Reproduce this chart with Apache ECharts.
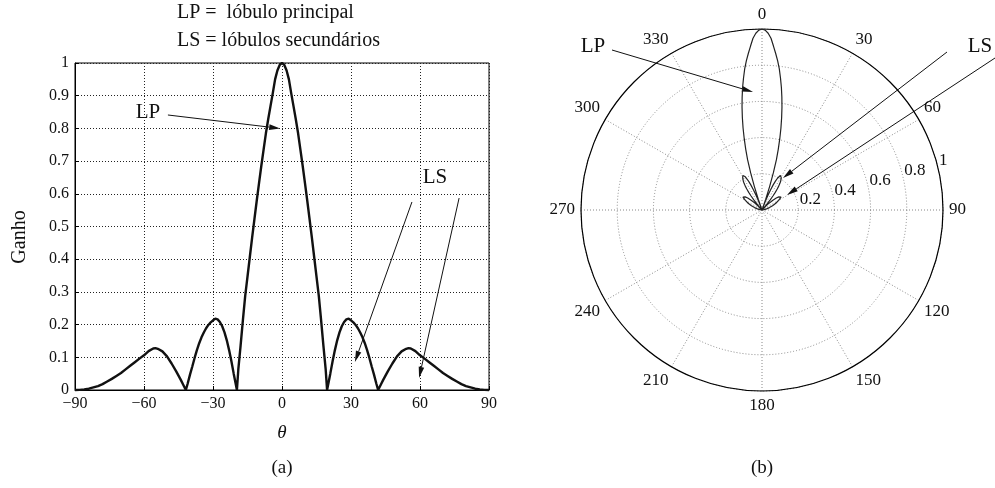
<!DOCTYPE html>
<html>
<head>
<meta charset="utf-8">
<script src="https://cdn.jsdelivr.net/npm/echarts@6/dist/echarts.min.js"></script>
<style>
html,body{margin:0;padding:0;background:#fff;}
#c{width:995px;height:488px;}
</style>
</head>
<body>
<div id="c"></div>
<script>
// ---- data ----
const theta = [-90,-88,-86,-84,-82,-80,-78,-76,-74,-72,-70,-68,-66,-64,-62,-60,-58,-56,-55,-54,-52,-50,-48,-46,-45,-44,-43,-41.8,
  -41,-40,-39,-38,-37,-36,-35,-34,-33,-32,-31,-30,-29,-28,-27,-26,-25,-24,-23,-22,-21,-19.6,
  -19,-18,-17,-16,-15,-14,-13,-12,-11,-10,-9,-8,-7,-6,-5,-4,-3,-2,-1,0,
  1,2,3,4,5,6,7,8,9,10,11,12,13,14,15,16,17,18,19,19.6,
  21,22,23,24,25,26,27,28,29,30,31,32,33,34,35,36,37,38,39,40,41,41.8,
  43,44,45,46,48,50,52,54,55,56,58,60,62,64,66,68,70,72,74,76,78,80,82,84,86,88,90];
const gain = [0,0.0005,0.002,0.004,0.008,0.012,0.018,0.026,0.034,0.043,0.052,0.063,0.074,0.085,0.096,0.106,0.119,0.127,0.128,0.126,0.118,0.103,0.081,0.057,0.044,0.031,0.017,0,
  0.02,0.047,0.072,0.098,0.122,0.143,0.161,0.176,0.189,0.199,0.207,0.213,0.218,0.216,0.208,0.195,0.176,0.152,0.122,0.088,0.05,0,
  0.062,0.136,0.214,0.288,0.347,0.406,0.465,0.522,0.578,0.632,0.685,0.735,0.785,0.828,0.868,0.908,0.95,0.977,0.994,1,
  0.994,0.977,0.95,0.908,0.868,0.828,0.785,0.735,0.685,0.632,0.578,0.522,0.465,0.406,0.347,0.288,0.214,0.136,0.062,0,
  0.05,0.088,0.122,0.152,0.176,0.195,0.208,0.216,0.218,0.213,0.207,0.199,0.189,0.176,0.161,0.143,0.122,0.098,0.072,0.047,0.02,0,
  0.017,0.031,0.044,0.057,0.081,0.103,0.118,0.126,0.128,0.127,0.119,0.106,0.096,0.085,0.074,0.063,0.052,0.043,0.034,0.026,0.018,0.012,0.008,0.004,0.002,0.0005,0];
const radTicks = [0.2, 0.4, 0.6, 0.8, 1];
const radTickLabels = ['0.2', '0.4', '0.6', '0.8', '1'];
const titleLines = ['LP =  lóbulo principal', 'LS = lóbulos secundários'];
// annotation arrows on panel (a), in data coordinates [theta, gain]: start -> tip
const arrowsA = [
  [[-49.6, 0.841], [-0.8, 0.8]],
  [[56.5, 0.575], [31.7, 0.086]],
  [[77, 0.587], [59.6, 0.037]]
];

// ---- build ----
const FONT = 'Liberation Serif';
const cartData = theta.map((t, i) => [t, gain[i]]);
const polarData = theta.map((t, i) => [gain[i], t]);

const chart = echarts.init(document.getElementById('c'), null, {renderer: 'canvas'});

function arrowGraphic(x1, y1, x2, y2) {
  const dx = x2 - x1, dy = y2 - y1, L = Math.hypot(dx, dy);
  const ux = dx / L, uy = dy / L, len = 11, hw = 2.8;
  const bx = x2 - ux * len, by = y2 - uy * len;
  return [
    {type: 'line', shape: {x1, y1, x2: bx, y2: by}, style: {stroke: '#111', lineWidth: 1}},
    {type: 'polygon', shape: {points: [[x2, y2], [bx - uy * hw, by + ux * hw], [bx + uy * hw, by - ux * hw]]}, style: {fill: '#111'}}
  ];
}

const txt = (x, y, s, size, opts) => Object.assign({
  type: 'text', x, y,
  style: Object.assign({text: s, font: (size || 17) + 'px "' + FONT + '"', fill: '#111', align: 'center', verticalAlign: 'middle'}, (opts && opts.style) || {})
}, opts && opts.rotation ? {rotation: opts.rotation} : {});

const staticGraphics = [
  txt(177, 13, titleLines[0], 20, {style: {align: 'left'}}),
  txt(177, 41, titleLines[1], 20, {style: {align: 'left'}}),
  txt(20, 237, 'Ganho', 20, {rotation: Math.PI / 2}),
  txt(282, 433, 'θ', 19, {style: {font: 'italic 19px "' + FONT + '"'}}),
  txt(282, 468, '(a)', 19),
  txt(762, 468, '(b)', 19),
  txt(148, 112, 'LP', 21),
  txt(435, 177, 'LS', 21),
  txt(593, 46, 'LP', 21),
  txt(980, 46, 'LS', 21)
].concat(arrowGraphic(612, 50, 753, 92))
 .concat(arrowGraphic(947, 52, 783, 178))
 .concat(arrowGraphic(995, 58, 787, 195));

const option = {
  animation: false,
  textStyle: {fontFamily: FONT},
  grid: {left: 75, right: 506, top: 63, bottom: 98, show: true, borderColor: '#000', borderWidth: 1},
  xAxis: {
    type: 'value', min: -90, max: 90, interval: 30,
    axisLine: {onZero: false, lineStyle: {color: '#000', width: 1}},
    axisTick: {inside: true, length: 4, lineStyle: {color: '#000'}},
    axisLabel: {color: '#111', fontSize: 16, fontFamily: FONT, margin: 6,
      formatter: v => v < 0 ? '\u2212' + Math.abs(v) : String(v)},
    splitLine: {show: true, lineStyle: {color: '#222', type: [1, 2], width: 1}}
  },
  yAxis: {
    type: 'value', min: 0, max: 1, interval: 0.1,
    axisLine: {onZero: false, lineStyle: {color: '#000', width: 1}},
    axisTick: {inside: true, length: 4, lineStyle: {color: '#000'}},
    axisLabel: {color: '#111', fontSize: 16, fontFamily: FONT, margin: 6,
      formatter: v => String(+v.toFixed(1))},
    splitLine: {show: true, lineStyle: {color: '#222', type: [1, 2], width: 1}}
  },
  polar: {center: [762, 210], radius: 181},
  angleAxis: {
    type: 'value', min: -180, max: 180, interval: 30, startAngle: -90, clockwise: true,
    axisLine: {lineStyle: {color: '#000', width: 1.2}},
    axisTick: {show: false},
    axisLabel: {color: '#111', fontSize: 17, fontFamily: FONT, margin: 6,
      formatter: v => String((v + 360) % 360)},
    splitLine: {show: true, lineStyle: {color: '#888', type: [1, 2], width: 1}}
  },
  radiusAxis: {
    type: 'value', min: 0, max: 1, interval: 0.2,
    axisLine: {show: false}, axisTick: {show: false}, axisLabel: {show: false},
    splitLine: {show: true, lineStyle: {color: '#888', type: [1, 2], width: 1}}
  },
  series: [
    {
      type: 'line', xAxisIndex: 0, yAxisIndex: 0, data: cartData, showSymbol: false, symbol: 'none',
      clip: false, lineStyle: {color: '#111', width: 2.4}, silent: true
    },
    {
      type: 'line', coordinateSystem: 'polar', polarIndex: 0, data: polarData, showSymbol: false, symbol: 'none',
      lineStyle: {color: '#222', width: 1.2}, silent: true
    },
    {
      type: 'scatter', coordinateSystem: 'polar', polarIndex: 0, symbolSize: 0, silent: true,
      itemStyle: {opacity: 1},
      data: radTicks.map(r => [r, 74]),
      label: {show: true, position: 'right', distance: 3, color: '#111', opacity: 1, fontSize: 17, fontFamily: FONT,
        formatter: p => radTickLabels[p.dataIndex]}
    }
  ],
  graphic: staticGraphics
};
chart.setOption(option);

// arrows of panel (a) placed through the cartesian scales
let arrowEls = [];
arrowsA.forEach(a => {
  const p1 = chart.convertToPixel({gridIndex: 0}, a[0]);
  const p2 = chart.convertToPixel({gridIndex: 0}, a[1]);
  arrowEls = arrowEls.concat(arrowGraphic(p1[0], p1[1], p2[0], p2[1]));
});
chart.setOption({graphic: staticGraphics.concat(arrowEls)}, {replaceMerge: ['graphic']});
</script>
</body>
</html>
